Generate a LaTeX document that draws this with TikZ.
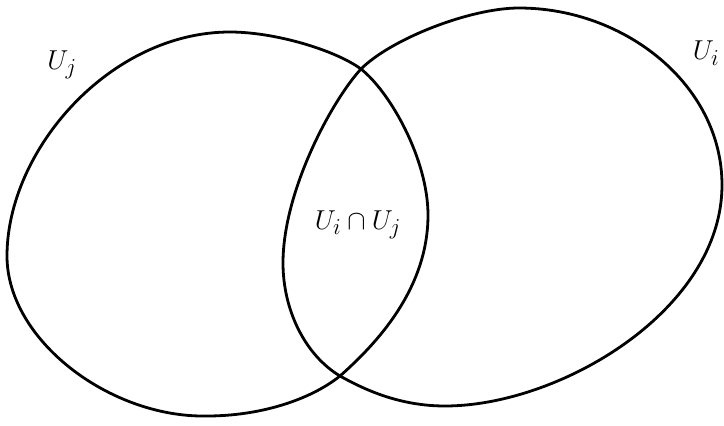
\documentclass[tikz,border=0pt]{standalone}
\usepackage{graphicx}
\newcommand{\biglab}[1]{\scalebox{1.1}{\Huge$#1$}}
\begin{document}
\begin{tikzpicture}[x=1pt,y=-1pt,
  setline/.style={line width=2.8pt, line join=round},
  lab/.style={inner sep=0pt}]
\useasboundingbox (0,0) rectangle (724,426);
% left set U_j
\draw[setline] (230,32) .. controls (275,32) and (335,50) .. (361,69)
  .. controls (391,93) and (428,160) .. (428,215)
  .. controls (428,290) and (375,345) .. (340,376)
  .. controls (310,400) and (260,416) .. (207,416)
  .. controls (110,418) and (7,340) .. (7,256)
  .. controls (7,150) and (110,32) .. (230,32) -- cycle;
% right set U_i
\draw[setline] (519,8) .. controls (625,8) and (722,85) .. (722,185)
  .. controls (722,310) and (560,406) .. (445,406)
  .. controls (400,406) and (365,390) .. (340,376)
  .. controls (305,355) and (283,310) .. (283,263)
  .. controls (283,190) and (333,99) .. (361,69)
  .. controls (391,39) and (470,8) .. (519,8) -- cycle;
\node[lab] (uj) at (62,65) {\biglab{U_j}};
\node[lab] (ui) at (706,53) {\biglab{U_i}};
\node[lab] (uij) at (358,225) {\biglab{U_i\cap U_j}};
\end{tikzpicture}
\end{document}
